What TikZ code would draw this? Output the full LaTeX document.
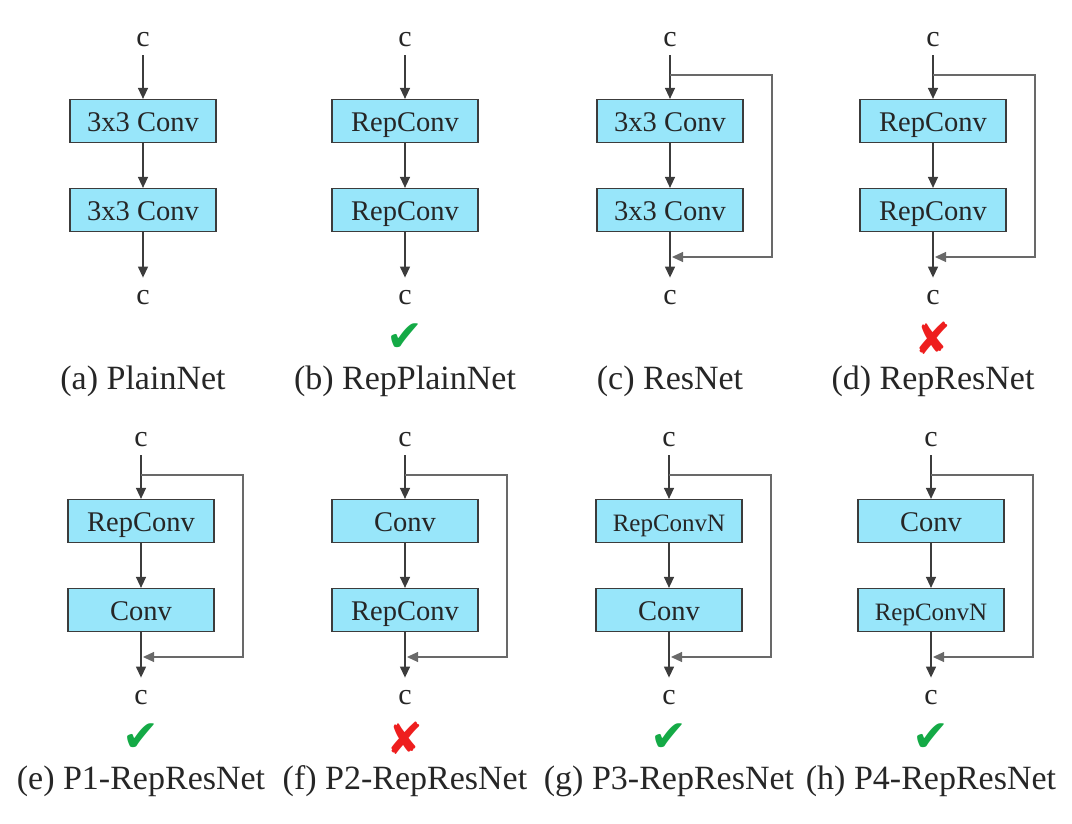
\documentclass[tikz,border=0pt]{standalone}
\usepackage{fontspec}
\setmainfont{Liberation Serif}
\newfontfamily\symfont{DejaVu Sans}
\usetikzlibrary{positioning}
\usetikzlibrary{arrows.meta}
\definecolor{convblue}{RGB}{152,230,250}
\definecolor{linegray}{RGB}{60,60,60}
\definecolor{resgray}{RGB}{105,105,105}
\definecolor{okgreen}{RGB}{20,170,70}
\definecolor{badred}{RGB}{238,30,30}
\newcommand{\okmark}{\textcolor{okgreen}{\symfont ✔}}
\newcommand{\badmark}{\textcolor{badred}{\symfont ✘}}
\newcommand{\smallconv}[1]{{\fontsize{25}{26}\selectfont #1}}
\tikzset{
    convbox/.style={draw=linegray, fill=convblue, line width=1.2pt, text=black!85,
        minimum width=146pt, minimum height=43pt, inner sep=0pt,
        text height=21pt, text depth=0pt,
        font=\fontsize{28.5}{30}\selectfont},
    chan/.style={inner sep=8pt, text=black!85, font=\fontsize{30}{30}\selectfont},
    capt/.style={inner sep=0pt, text=black!85, font=\fontsize{34}{36}\selectfont},
    sign/.style={inner sep=0pt, font=\fontsize{44}{46}\selectfont},
    flow/.style={draw=linegray, line width=1.3pt, -{Triangle[length=11pt,width=10pt]}},
    skip/.style={draw=resgray, line width=1.1pt, -{Triangle[length=11pt,width=10pt]}},
}

\begin{document}
\begin{tikzpicture}[x=1pt, y=-1pt]
    \useasboundingbox (0,0) rectangle (1072,824);
    \foreach \n/\X/\Y/\first/\second/\res/\sg/\capt in {
        a/143/0/3x3 Conv/3x3 Conv/0/{}/{(a) PlainNet},
        b/405/0/RepConv/RepConv/0/\okmark/{(b) RepPlainNet},
        c/670/0/3x3 Conv/3x3 Conv/1/{}/{(c) ResNet},
        d/933/0/RepConv/RepConv/1/\badmark/{(d) RepResNet},
        e/141/400/RepConv/Conv/1/\okmark/{(e) P1-RepResNet},
        f/405/400/Conv/RepConv/1/\badmark/{(f) P2-RepResNet},
        g/669/400/\smallconv{RepConvN}/Conv/1/\okmark/{(g) P3-RepResNet},
        h/931/400/Conv/\smallconv{RepConvN}/1/\okmark/{(h) P4-RepResNet}}
    {
        \node[chan] (\n-in) at (\X,40+\Y) {c};
        \node[convbox] (\n-b1) at (\X,121+\Y) {\first};
        \node[convbox] (\n-b2) at (\X,210+\Y) {\second};
        \node[chan] (\n-out) at (\X,298+\Y) {c};
        \node[sign] (\n-sign) at (\X,338+\Y) {\sg};
        \node[capt] (\n-cap) at (\X,381+\Y) {\capt};
        \draw[flow] (\n-in) -- (\n-b1);
        \draw[flow] (\n-b1) -- (\n-b2);
        \draw[flow, shorten >=5pt] (\n-b2) -- (\n-out);
        % shortcut round the two blocks
        \ifnum\res=1
            \coordinate (\n-split) at (\X,75+\Y);
            \coordinate (\n-join) at (\X+2,257+\Y);
            \draw[skip] (\n-split) -- ++(102,0) |- (\n-join);
        \fi
    }
\end{tikzpicture}
\end{document}
